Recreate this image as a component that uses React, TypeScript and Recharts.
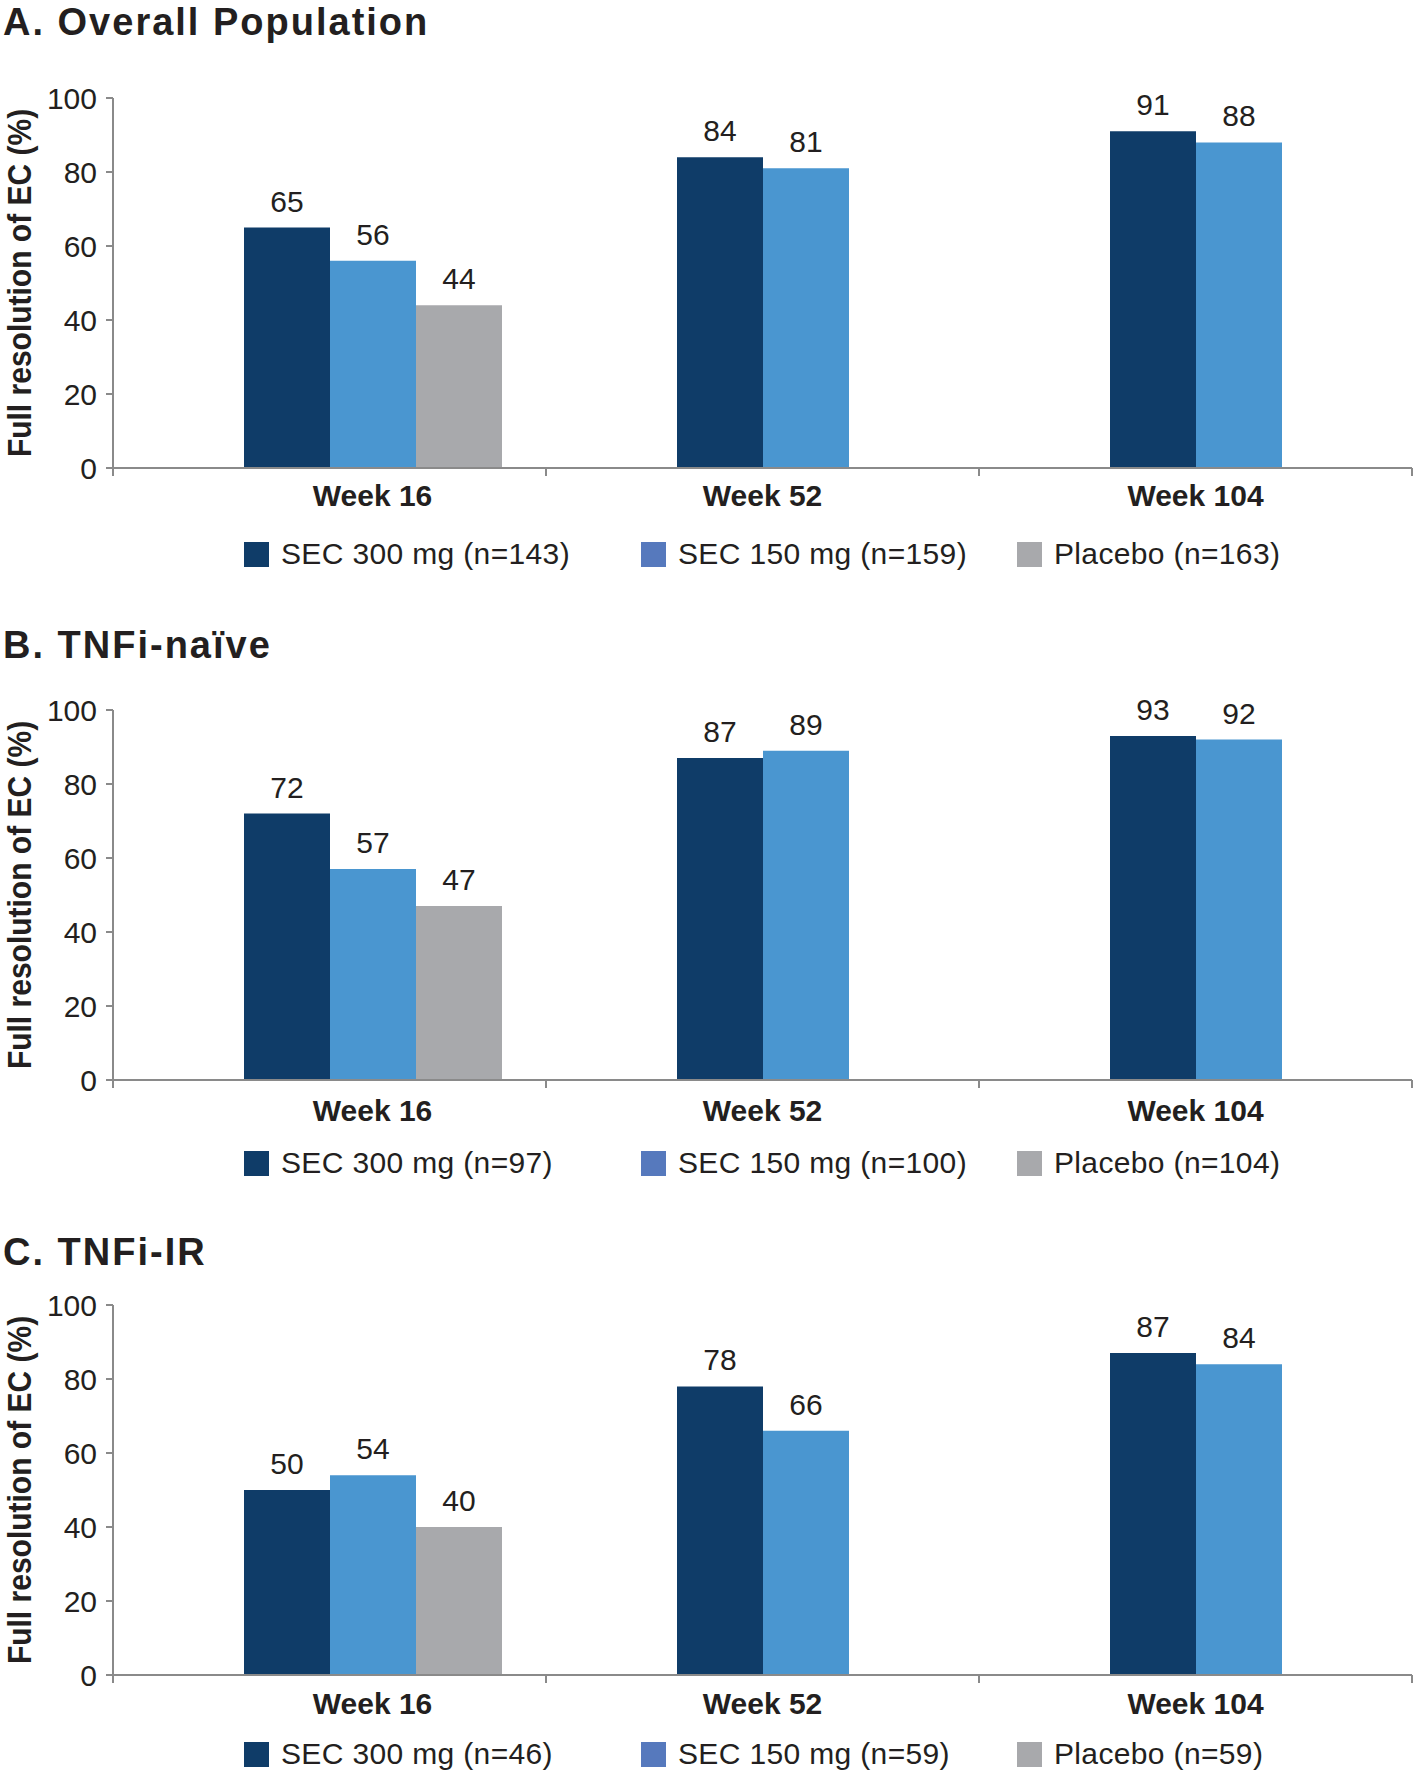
import React from 'react';
import { BarChart, Bar, XAxis, YAxis, LabelList, Label } from 'recharts';

// categories and axis ticks
const weeks = ['Week 16', 'Week 52', 'Week 104'];
const yTicks = [0, 20, 40, 60, 80, 100];
const seriesNames = ['SEC 300 mg', 'SEC 150 mg', 'Placebo'];

// A. Overall population
const overallSec300 = [65, 84, 91];
const overallSec150 = [56, 81, 88];
const overallPlacebo = [44, null, null];
const overallN = [143, 159, 163];

// B. TNFi-naive
const naiveSec300 = [72, 87, 93];
const naiveSec150 = [57, 89, 92];
const naivePlacebo = [47, null, null];
const naiveN = [97, 100, 104];

// C. TNFi-IR
const irSec300 = [50, 78, 87];
const irSec150 = [54, 66, 84];
const irPlacebo = [40, null, null];
const irN = [46, 59, 59];

const TEXT = '#231f20';
const AXIS = '#8a8a8a';
const BAR_COLORS = ['#0f3c68', '#4a96d0', '#a8a9ac'];
const SWATCH_COLORS = ['#0f3c68', '#5679bd', '#a8a9ac'];
const FONT = '"Liberation Sans", Arial, Helvetica, sans-serif';

const CHART_W = 1418;
const Y_AXIS_W = 113;
const MARGIN_R = 6;
const TOP_PAD = 40;
const PLOT_H = 370;
const X_AXIS_H = 60;
const BAR = 86;
const BAND = (CHART_W - Y_AXIS_W - MARGIN_R) / weeks.length;
const LEGEND_X = [244, 641, 1017];

type Row = { week: string; sec300: number | null; sec150: number | null; placebo: number | null };

const makeRows = (a: (number | null)[], b: (number | null)[], c: (number | null)[]): Row[] =>
  weeks.map((week, i) => ({ week, sec300: a[i], sec150: b[i], placebo: c[i] }));

const WeekTick = (props: any) => {
  const { x, y, payload, index, rows, weekDy } = props;
  const row: Row = rows[index];
  // label sits under the bars that are actually drawn
  const shift = row && row.placebo != null ? BAR / 2 : 0;
  const left = x - BAND / 2;
  const right = x + BAND / 2;
  return (
    <g>
      <line x1={left} y1={y} x2={left} y2={y + 8} stroke={AXIS} strokeWidth={2} />
      {index === rows.length - 1 && (
        <line x1={right} y1={y} x2={right} y2={y + 8} stroke={AXIS} strokeWidth={2} />
      )}
      <text x={x + shift} y={y + weekDy} textAnchor="middle" fontSize={30} fontWeight="bold" fill={TEXT}>
        {payload.value}
      </text>
    </g>
  );
};

const YTitle = (props: any) => {
  const { viewBox } = props;
  const cy = viewBox.y + viewBox.height / 2;
  return (
    <text
      transform={`translate(19,${cy}) scale(1.12,1) rotate(-90)`}
      textAnchor="middle"
      dominantBaseline="central"
      fontSize={30}
      fontWeight="bold"
      fill={TEXT}
    >
      Full resolution of EC (%)
    </text>
  );
};

type PanelProps = {
  title: string;
  rows: Row[];
  ns: number[];
  plotTop: number;
  titleBaseline: number;
  weekDy: number;
  legendCenter: number;
};

const Panel = ({ title, rows, ns, plotTop, titleBaseline, weekDy, legendCenter }: PanelProps) => {
  const chartTop = plotTop - TOP_PAD;
  const keys = ['sec300', 'sec150', 'placebo'];
  return (
    <>
      <div
        style={{
          position: 'absolute',
          left: 3,
          top: titleBaseline - 34,
          fontSize: 38,
          lineHeight: '42px',
          fontWeight: 'bold',
          letterSpacing: 2,
          color: TEXT,
          whiteSpace: 'nowrap',
        }}
      >
        {title}
      </div>
      <div style={{ position: 'absolute', left: 0, top: chartTop }}>
        <BarChart
          width={CHART_W}
          height={TOP_PAD + PLOT_H + X_AXIS_H}
          data={rows}
          margin={{ top: TOP_PAD, right: MARGIN_R, bottom: 0, left: 0 }}
          barSize={BAR}
          barGap={0}
        >
          <XAxis
            dataKey="week"
            interval={0}
            height={X_AXIS_H}
            tickLine={false}
            tickSize={0}
            tickMargin={0}
            axisLine={{ stroke: AXIS, strokeWidth: 2 }}
            tick={(p: any) => <WeekTick {...p} rows={rows} weekDy={weekDy} />}
          />
          <YAxis
            width={Y_AXIS_W}
            domain={[0, 100]}
            ticks={yTicks}
            interval={0}
            tickSize={7}
            tickMargin={9}
            axisLine={{ stroke: AXIS, strokeWidth: 2 }}
            tickLine={{ stroke: AXIS, strokeWidth: 2 }}
            tick={{ fontSize: 30, fill: TEXT }}
          >
            <Label content={YTitle} />
          </YAxis>
          {/* empty leading slot: Excel-style grouping puts the first bar left of the category centre */}
          <Bar dataKey="spacer" fill="none" legendType="none" isAnimationActive={false} />
          {keys.map((k, i) => (
            <Bar key={k} dataKey={k} name={seriesNames[i]} fill={BAR_COLORS[i]} isAnimationActive={false}>
              <LabelList dataKey={k} position="top" offset={16} fontSize={30} fill={TEXT} />
            </Bar>
          ))}
        </BarChart>
      </div>
      {seriesNames.map((name, i) => (
        <div
          key={name}
          style={{
            position: 'absolute',
            left: LEGEND_X[i],
            top: legendCenter - 15,
            height: 30,
            display: 'flex',
            alignItems: 'center',
            whiteSpace: 'nowrap',
          }}
        >
          <div style={{ width: 25, height: 25, background: SWATCH_COLORS[i], marginRight: 12 }} />
          <span style={{ fontSize: 30, lineHeight: '30px', letterSpacing: 0.35, color: TEXT }}>
            {name} (n={ns[i]})
          </span>
        </div>
      ))}
    </>
  );
};

export default function App() {
  return (
    <div
      style={{
        position: 'absolute',
        left: 0,
        top: 0,
        width: 1418,
        height: 1773,
        background: '#fff',
        fontFamily: FONT,
        overflow: 'hidden',
      }}
    >
      <Panel
        title="A. Overall Population"
        rows={makeRows(overallSec300, overallSec150, overallPlacebo)}
        ns={overallN}
        plotTop={98}
        titleBaseline={35}
        weekDy={38}
        legendCenter={554}
      />
      <Panel
        title="B. TNFi-naïve"
        rows={makeRows(naiveSec300, naiveSec150, naivePlacebo)}
        ns={naiveN}
        plotTop={710}
        titleBaseline={658}
        weekDy={41}
        legendCenter={1163}
      />
      <Panel
        title="C. TNFi-IR"
        rows={makeRows(irSec300, irSec150, irPlacebo)}
        ns={irN}
        plotTop={1305}
        titleBaseline={1265}
        weekDy={39}
        legendCenter={1754}
      />
    </div>
  );
}
